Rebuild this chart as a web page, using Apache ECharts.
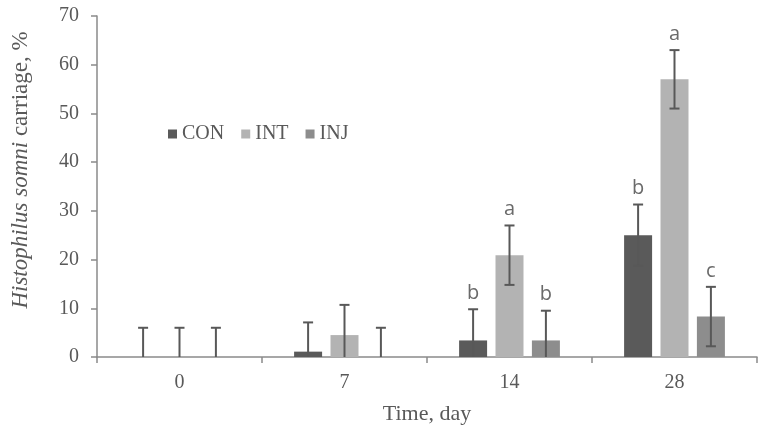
<!DOCTYPE html>
<html lang="en" style="width: 100%; height: 100%">
<head>
  <meta charset="utf-8">
</head>
<body style="margin: 0; width: 768px; height: 433px">
  <div id="container" style="width: 768px; height: 433px"></div>

  <script type="text/javascript" src="https://cdn.jsdelivr.net/npm/echarts@6/dist/echarts.min.js"></script>
  <script type="text/javascript">

var days = ['0', '7', '14', '28'];
var groups = ['CON', 'INT', 'INJ'];

// mean carriage, %
var con = [0, 1.1, 3.4, 25.0];
var int_ = [0, 4.5, 20.9, 57.0];
var inj = [0, 0, 3.4, 8.3];

// standard error
var conErr = [6.0, 6.0, 6.4, 6.3];
var intErr = [6.0, 6.2, 6.1, 6.0];
var injErr = [6.0, 6.0, 6.1, 6.1];

// significance letters
var conLetters = ['', '', 'b', 'b'];
var intLetters = ['', '', 'a', 'a'];
var injLetters = ['', '', 'b', 'c'];

var colors = ['#5a5a5a', '#b3b3b3', '#8d8d8d'];
var textColor = '#595959';
var serif = '"Liberation Serif", "Times New Roman", serif';

var dom = document.getElementById('container');
var myChart = echarts.init(dom, null, { renderer: 'canvas' });

var barW = 28;
var gapRatio = 0.3;

function errSeries(idx, means, errs, letters) {
  var data = [];
  for (var i = 0; i < days.length; i++) {
    data.push([i, means[i], errs[i], letters[i]]);
  }
  return {
    type: 'custom',
    name: groups[idx] + ' err',
    z: 5,
    data: data,
    renderItem: function (params, api) {
      var c = api.value(0);
      var m = api.value(1);
      var e = api.value(2);
      var letter = data[params.dataIndex][3];
      var off = (idx - 1) * barW * (1 + gapRatio);
      var top = api.coord([c, m + e]);
      var low = api.coord([c, Math.max(m - e, 0)]);
      var x = top[0] + off;
      var style = { stroke: '#585858', lineWidth: 2 };
      var kids = [
        { type: 'line', shape: { x1: x, y1: top[1], x2: x, y2: low[1] }, style: style },
        { type: 'line', shape: { x1: x - 5, y1: top[1], x2: x + 5, y2: top[1] }, style: style }
      ];
      if (m - e > 0) {
        kids.push({ type: 'line', shape: { x1: x - 5, y1: low[1], x2: x + 5, y2: low[1] }, style: style });
      }
      if (letter) {
        kids.push({
          type: 'text',
          style: {
            text: letter, x: x, y: top[1] - 6,
            align: 'center', verticalAlign: 'bottom',
            fill: '#6a6a6a', font: '20px "Open Sans", sans-serif'
          }
        });
      }
      return { type: 'group', children: kids };
    }
  };
}

var option = {
  animation: false,
  backgroundColor: '#ffffff',
  grid: { left: 97, right: 11, top: 16, bottom: 76 },
  legend: {
    data: groups,
    left: 163,
    top: 119,
    icon: 'rect',
    itemWidth: 9,
    itemHeight: 9,
    itemGap: 17,
    textStyle: { color: textColor, fontFamily: serif, fontSize: 20, padding: [0, 0, 0, 0] }
  },
  xAxis: {
    type: 'category',
    data: days,
    name: 'Time, day',
    nameLocation: 'middle',
    nameGap: 46,
    nameTextStyle: { color: textColor, fontFamily: serif, fontSize: 22 },
    axisLine: { lineStyle: { color: '#8a8a8a', width: 1.5 } },
    axisTick: { show: true, length: 6, lineStyle: { color: '#8a8a8a', width: 1.5 } },
    axisLabel: { color: textColor, fontFamily: serif, fontSize: 20, margin: 16 }
  },
  yAxis: {
    type: 'value',
    min: 0,
    max: 70,
    interval: 10,
    splitLine: { show: false },
    axisLine: { show: true, lineStyle: { color: '#8a8a8a', width: 1.5 } },
    axisTick: { show: true, length: 6, lineStyle: { color: '#8a8a8a', width: 1.5 } },
    axisLabel: { color: textColor, fontFamily: serif, fontSize: 20, margin: 18 }
  },
  graphic: [{
    type: 'text',
    x: 21,
    y: 170,
    rotation: Math.PI / 2,
    style: {
      text: '{i|Histophilus somni} carriage, %',
      align: 'center',
      verticalAlign: 'middle',
      fill: textColor,
      font: '23px ' + serif,
      rich: {
        i: { fontStyle: 'italic', fontFamily: serif, fontSize: 23, fill: textColor }
      }
    }
  }],
  series: [
    { name: 'CON', type: 'bar', data: con, barWidth: barW, barGap: '30%', itemStyle: { color: colors[0] } },
    { name: 'INT', type: 'bar', data: int_, barWidth: barW, barGap: '30%', itemStyle: { color: colors[1] } },
    { name: 'INJ', type: 'bar', data: inj, barWidth: barW, barGap: '30%', itemStyle: { color: colors[2] } },
    errSeries(0, con, conErr, conLetters),
    errSeries(1, int_, intErr, intLetters),
    errSeries(2, inj, injErr, injLetters)
  ]
};

myChart.setOption(option);
window.addEventListener('resize', myChart.resize);

  </script>
</body>
</html>
